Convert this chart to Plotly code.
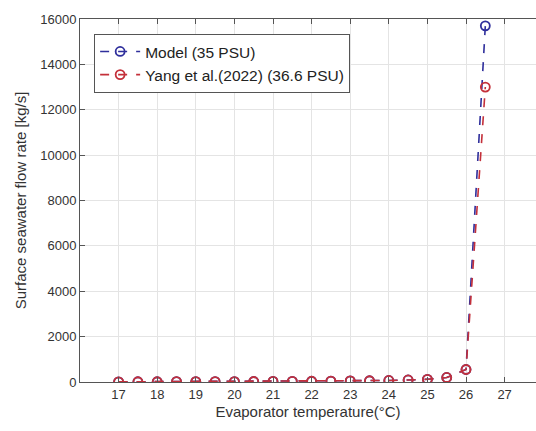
import plotly.graph_objects as go

# Evaporator temperature (°C)
temperature = [17, 17.5, 18, 18.5, 19, 19.5, 20, 20.5, 21, 21.5, 22, 22.5,
               23, 23.5, 24, 24.5, 25, 25.5, 26, 26.5]

# Surface seawater flow rate (kg/s)
model_flow = [8, 10, 12, 14, 16, 18, 20, 23, 26, 30, 34, 40,
              47, 56, 68, 90, 120, 200, 550, 15700]
yang_flow = [8, 10, 12, 14, 16, 18, 20, 23, 26, 30, 34, 40,
             47, 56, 68, 90, 120, 200, 550, 13000]

x_ticks = [17, 18, 19, 20, 21, 22, 23, 24, 25, 26, 27]
y_ticks = [0, 2000, 4000, 6000, 8000, 10000, 12000, 14000, 16000]
y_labels = [str(v) for v in y_ticks]

BLUE = "#2f2f9c"
RED = "#c4303a"
FONT = "Liberation Sans, Arial, sans-serif"

fig = go.Figure()
fig.add_trace(go.Scatter(
    x=temperature, y=model_flow, mode="lines+markers",
    name="Model (35 PSU)",
    line=dict(color=BLUE, width=1.6, dash="dash"),
    marker=dict(symbol="circle-open", size=9, color=BLUE, line=dict(width=1.8)),
))
fig.add_trace(go.Scatter(
    x=temperature, y=yang_flow, mode="lines+markers",
    name="Yang et al.(2022) (36.6 PSU)",
    line=dict(color=RED, width=1.6, dash="dash"),
    marker=dict(symbol="circle-open", size=9, color=RED, line=dict(width=1.8)),
))

fig.update_layout(
    width=536, height=431,
    margin=dict(l=80, r=0, t=19, b=49),
    paper_bgcolor="white", plot_bgcolor="white",
    font=dict(family=FONT, color="#333333", size=13),
    showlegend=True,
    legend=dict(
        x=0.031, y=0.959, xanchor="left", yanchor="top",
        bgcolor="white", bordercolor="#555555", borderwidth=1,
        font=dict(size=15.5, color="#222222", family=FONT),
        tracegroupgap=0, itemwidth=40,
    ),
)

fig.update_xaxes(
    range=[16, 27.813], tickvals=x_ticks,
    showgrid=True, gridcolor="#e4e4e4", gridwidth=1,
    showline=True, linecolor="#555555", linewidth=1, mirror="ticks",
    ticks="inside", ticklen=5, tickcolor="#555555",
    zeroline=False,
    tickfont=dict(size=13, color="#333333"),
    title=dict(text="Evaporator temperature(°C)", font=dict(size=15, color="#333333"), standoff=5),
)
fig.update_yaxes(
    range=[0, 16000], tickvals=y_ticks, ticktext=y_labels,
    showgrid=True, gridcolor="#e4e4e4", gridwidth=1,
    showline=True, linecolor="#555555", linewidth=1,
    ticks="inside", ticklen=5, tickcolor="#555555",
    zeroline=False,
    tickfont=dict(size=13, color="#333333"),
    title=dict(text="Surface seawater flow rate [kg/s]", font=dict(size=15, color="#333333"), standoff=9),
)

fig.write_html("out.html")
